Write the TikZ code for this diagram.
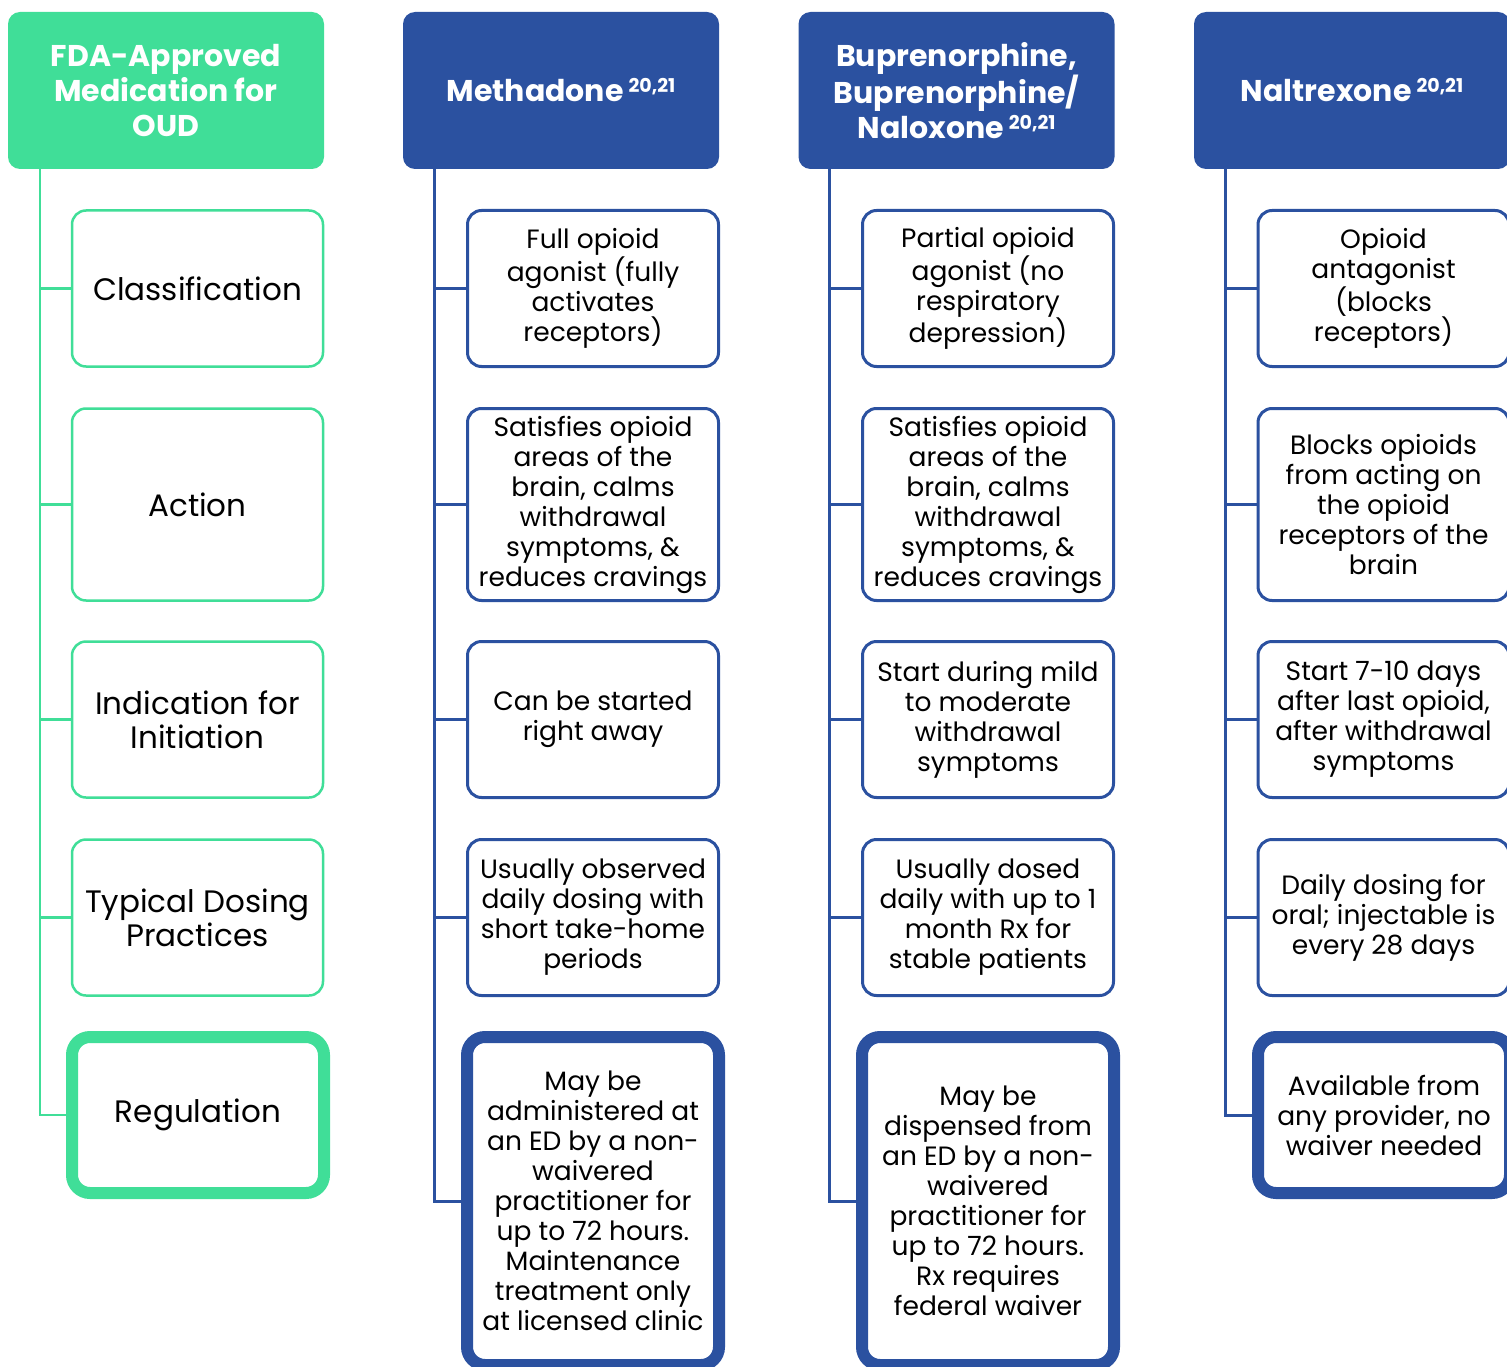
\documentclass[tikz,border=0pt]{standalone}
\usepackage{fontspec}
\setmainfont{Poppins}
\definecolor{oudgreen}{RGB}{64,222,152}
\definecolor{oudblue}{RGB}{43,81,160}
\newcommand{\refsup}{\,\raisebox{9pt}{\fontsize{19}{19}\selectfont 20,21}}
\begin{document}
\begin{tikzpicture}[x=1pt,y=-1pt,
  hdr/.style={rounded corners=12pt, minimum width=316pt, minimum height=157pt, inner sep=0pt,
    text=white, align=center, font=\fontsize{30}{35}\selectfont\bfseries},
  item/.style={draw, line width=3pt, rounded corners=14pt, minimum width=251pt, minimum height=156pt,
    inner sep=0pt, align=center, fill=white, text=black, font=\fontsize{26.5}{30}\selectfont},
  itemthick/.style={item, line width=12pt, minimum width=252pt, rounded corners=18pt},
  gfont/.style={font=\fontsize{31}{34}\selectfont},
  gitem/.style={item, draw=oudgreen, line width=2.5pt, gfont},
  bitem/.style={item, draw=oudblue},
  gconn/.style={draw=oudgreen, line width=2.5pt},
  bconn/.style={draw=oudblue, line width=3pt}
]
\useasboundingbox (0,0) rectangle (1507,1367);
\clip (0,0) rectangle (1507,1367);

% headers
\node[hdr, fill=oudgreen] (hA) at (166,90.5) {FDA-Approved\\Medication for\\OUD};
\node[hdr, fill=oudblue] (hB) at (561,90.5) {Methadone\refsup};
\node[hdr, fill=oudblue] (hC) at (956.5,90.5) {Buprenorphine,\\Buprenorphine/\\Naloxone\refsup};
\node[hdr, fill=oudblue] (hD) at (1352,90.5) {Naltrexone\refsup};

% column A
\node[gitem] (a1) at (197.5,288.5) {Classification};
\node[gitem, minimum height=192pt] (a2) at (197.5,504.5) {Action};
\node[gitem] (a3) at (197.5,719.5) {Indication for\\Initiation};
\node[gitem] (a4) at (197.5,917.5) {Typical Dosing\\Practices};
\node[itemthick, draw=oudgreen, gfont, minimum height=156pt] (a5) at (198,1115) {Regulation};

% column B
\node[bitem] (b1) at (593,288.5) {Full opioid\\agonist (fully\\activates\\receptors)};
\node[bitem, minimum height=192pt] (b2) at (593,504.5) {Satisfies opioid\\areas of the\\brain, calms\\withdrawal\\symptoms, \&\\reduces cravings};
\node[bitem] (b3) at (593,719.5) {Can be started\\right away};
\node[bitem] (b4) at (593,917.5) {Usually observed\\daily dosing with\\short take-home\\periods};
\node[itemthick, draw=oudblue, minimum height=328pt] (b5) at (593,1201) {May be\\administered at\\an ED by a non-\\waivered\\practitioner for\\up to 72 hours.\\Maintenance\\treatment only\\at licensed clinic};

% column C
\node[bitem] (c1) at (988,288.5) {Partial opioid\\agonist (no\\respiratory\\depression)};
\node[bitem, minimum height=192pt] (c2) at (988,504.5) {Satisfies opioid\\areas of the\\brain, calms\\withdrawal\\symptoms, \&\\reduces cravings};
\node[bitem] (c3) at (988,719.5) {Start during mild\\to moderate\\withdrawal\\symptoms};
\node[bitem] (c4) at (988,917.5) {Usually dosed\\daily with up to 1\\month Rx for\\stable patients};
\node[itemthick, draw=oudblue, minimum height=328pt] (c5) at (988,1201) {May be\\dispensed from\\an ED by a non-\\waivered\\practitioner for\\up to 72 hours.\\Rx requires\\federal waiver};

% column D
\node[bitem] (d1) at (1383.5,288.5) {Opioid\\antagonist\\(blocks\\receptors)};
\node[bitem, minimum height=192pt] (d2) at (1383.5,504.5) {Blocks opioids\\from acting on\\the opioid\\receptors of the\\brain};
\node[bitem] (d3) at (1383.5,719.5) {Start 7-10 days\\after last opioid,\\after withdrawal\\symptoms};
\node[bitem] (d4) at (1383.5,917.5) {Daily dosing for\\oral; injectable is\\every 28 days};
\node[itemthick, draw=oudblue, minimum height=156pt] (d5) at (1384,1115) {Available from\\any provider, no\\waiver needed};

% connectors
\foreach \i in {1,...,5} {
  \draw[gconn] ([xshift=32pt]hA.south west) |- (a\i.west);
  \draw[bconn] ([xshift=32pt]hB.south west) |- (b\i.west);
  \draw[bconn] ([xshift=31pt]hC.south west) |- (c\i.west);
  \draw[bconn] ([xshift=32pt]hD.south west) |- (d\i.west);
}
\end{tikzpicture}
\end{document}
